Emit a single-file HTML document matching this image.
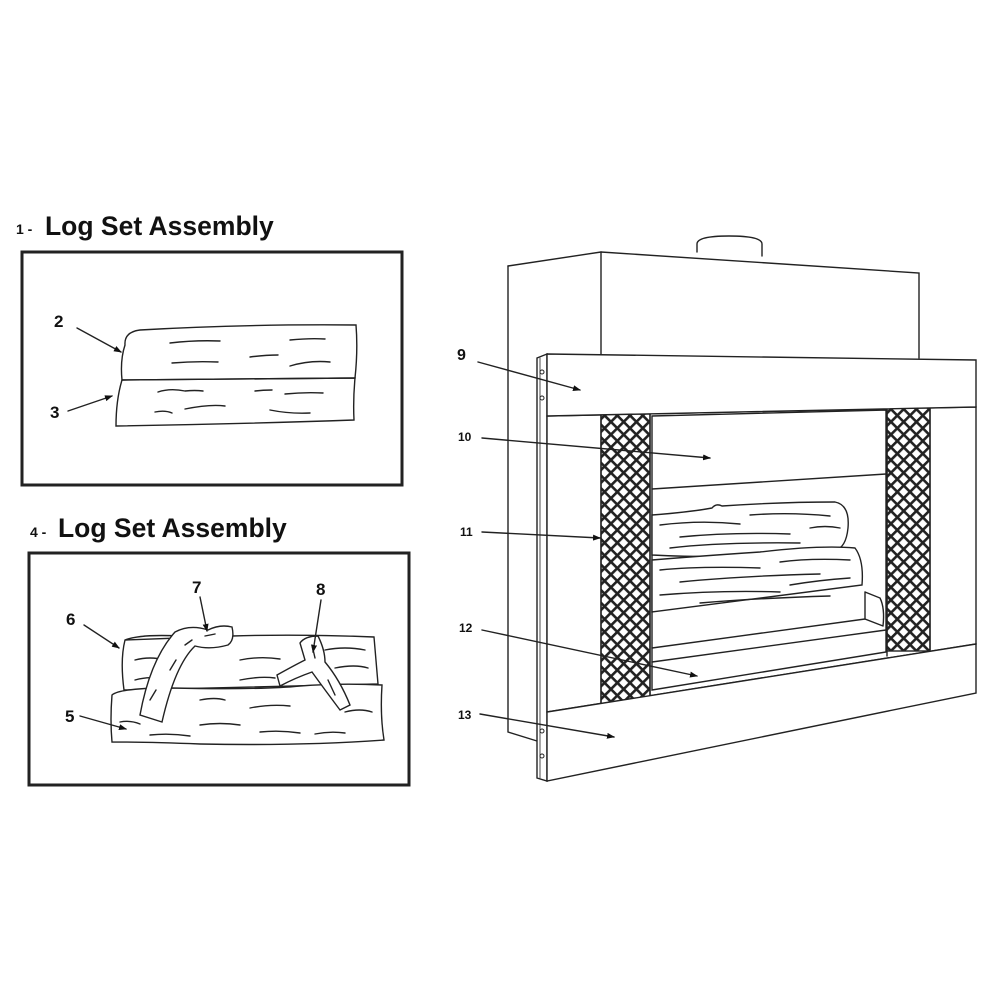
<!DOCTYPE html>
<html><head><meta charset="utf-8"><style>
html,body{margin:0;padding:0;background:#fff;width:1000px;height:1000px;overflow:hidden}
svg{display:block}
text{font-family:"Liberation Sans",Arial,sans-serif;fill:#111;font-weight:bold}
</style></head><body>
<svg width="1000" height="1000" viewBox="0 0 1000 1000" xmlns="http://www.w3.org/2000/svg">
<defs>
<marker id="ah" markerWidth="8" markerHeight="6" refX="7" refY="3" orient="auto" markerUnits="userSpaceOnUse">
<path d="M0,0 L8,3 L0,6 Z" fill="#111"/></marker>
<pattern id="lat" width="9" height="9" patternUnits="userSpaceOnUse" patternTransform="rotate(45)">
<rect width="9" height="9" fill="#fff"/>
<rect width="9" height="2.6" fill="#222"/><rect width="2.6" height="9" fill="#222"/>
</pattern>
</defs>
<g fill="none" stroke="#222" stroke-width="1.4" stroke-linecap="round">

<!-- Panel 1 -->
<text x="16" y="234" font-size="14" stroke="none">1 -</text>
<text x="45" y="235" font-size="26.5" stroke="none">Log Set Assembly</text>
<rect x="22" y="252" width="380" height="233" stroke-width="3"/>
<path d="M125,345 Q124,332 140,330 Q240,324 356,325 Q358,350 355,378 L122,380 Q120,360 125,345 Z"/>
<path d="M122,380 L355,378 Q353,400 354,420 Q240,424 116,426 Q116,400 122,380 Z"/>
<path d="M170,343 Q195,340 220,341 M290,340 Q310,338 325,339 M172,363 Q195,361 218,362 M250,357 Q265,355 278,355 M290,366 Q310,360 330,362 M158,392 Q170,388 185,391 Q195,390 203,391 M255,391 Q263,390 272,390 M285,394 Q305,392 323,393 M155,412 Q165,410 172,413 M185,409 Q210,404 225,406 M270,410 Q290,414 310,413"/>
<line x1="77" y1="328" x2="121" y2="352" marker-end="url(#ah)"/>
<line x1="68" y1="411" x2="112" y2="396" marker-end="url(#ah)"/>
<text x="54" y="327" font-size="17" stroke="none">2</text>
<text x="50" y="418" font-size="17" stroke="none">3</text>

<!-- Panel 2 -->
<text x="30" y="537" font-size="14" stroke="none">4 -</text>
<text x="58" y="537" font-size="26.5" stroke="none">Log Set Assembly</text>
<rect x="29" y="553" width="380" height="232" stroke-width="3"/>
<path d="M125,640 Q140,634 180,636 M232,636 Q300,634 374,637 Q376,660 378,684 L124,690 Q120,660 125,640 Z"/>
<path d="M112,695 Q120,688 170,688 Q260,690 300,686 Q340,683 382,685 Q380,715 384,740 Q300,746 200,744 Q150,742 112,742 Q110,720 112,695 Z" fill="#fff"/>
<path d="M135,660 Q150,656 165,660 M135,680 Q150,676 160,679 M240,660 Q260,656 280,659 M240,680 Q260,676 275,678 M325,650 Q345,646 365,650 M335,668 Q355,664 368,668 M200,700 Q215,697 225,700 M250,708 Q270,704 290,706 M200,725 Q220,722 240,725 M260,732 Q280,730 300,733 M345,712 Q360,708 372,712 M120,722 Q130,720 140,724 M150,735 Q170,733 190,736 M315,734 Q330,731 345,733"/>
<path d="M140,715 Q150,660 175,632 Q190,624 208,630 Q220,624 232,627 Q235,640 228,645 Q210,650 195,646 Q175,665 162,722 Z" fill="#fff"/>
<path d="M150,700 L156,690 M170,670 L176,660 M185,645 L192,640 M205,636 L215,634"/>
<path d="M300,643 Q305,636 318,636 Q325,650 325,662 Q340,680 350,705 L340,710 Q325,690 312,672 Q295,678 280,686 L277,675 Q295,665 305,660 Z" fill="#fff"/>
<path d="M312,645 L315,658 M328,680 L335,695"/>
<line x1="84" y1="625" x2="119" y2="648" marker-end="url(#ah)"/>
<line x1="80" y1="716" x2="126" y2="729" marker-end="url(#ah)"/>
<line x1="200" y1="597" x2="207" y2="631" marker-end="url(#ah)"/>
<line x1="321" y1="600" x2="313" y2="652" marker-end="url(#ah)"/>
<text x="66" y="625" font-size="17" stroke="none">6</text>
<text x="65" y="722" font-size="17" stroke="none">5</text>
<text x="192" y="593" font-size="17" stroke="none">7</text>
<text x="316" y="595" font-size="17" stroke="none">8</text>

<!-- Fireplace back box -->
<path d="M697,252 L697,244 Q697,236 729,236 Q762,236 762,244 L762,256"/>
<path d="M508,266 L601,252 L919,273 L919,358"/>
<line x1="601" y1="252" x2="601" y2="354"/>
<path d="M508,266 L508,732 L537,741"/>
<path d="M537,358 L547,354 L547,781 L537,778 Z" fill="#fff"/>
<line x1="540" y1="358" x2="540" y2="778" stroke-width="0.8"/>
<circle cx="542" cy="372" r="2" stroke-width="1"/><circle cx="542" cy="398" r="2" stroke-width="1"/>
<circle cx="542" cy="731" r="2" stroke-width="1"/><circle cx="542" cy="756" r="2" stroke-width="1"/>
<path d="M547,416 L976,407 L976,644 L547,712 Z" fill="#fff"/>
<path d="M652,416 L886,410 L886,652 L652,690 Z" fill="#fff"/>
<line x1="652" y1="489" x2="886" y2="474"/>
<line x1="652" y1="648" x2="865" y2="619"/>
<line x1="652" y1="662" x2="886" y2="630"/>
<path d="M865,592 L865,619 L883,626 M865,592 L880,598 Q885,608 883,626"/>
<path d="M652,515 Q690,512 712,508 Q716,503 722,506 Q780,502 835,502 Q850,505 848,528 Q846,548 835,550 Q750,560 652,555 Z" fill="#fff"/>
<path d="M652,560 Q700,556 760,552 Q820,545 855,548 Q864,560 862,585 L652,612 Z" fill="#fff"/>
<path d="M660,525 Q700,520 740,524 M680,537 Q730,532 790,534 M750,515 Q790,512 830,516 M670,548 Q720,542 800,543 M810,528 Q825,525 840,528 M660,570 Q700,566 760,568 M680,582 Q740,576 820,574 M660,595 Q720,590 780,592 M790,585 Q820,580 850,578 M700,603 Q760,598 830,596 M780,562 Q810,558 850,560"/>
<rect x="601" y="414" width="49" height="290" fill="url(#lat)"/>
<rect x="887" y="408" width="43" height="243" fill="url(#lat)"/>
<line x1="601" y1="414" x2="601" y2="704"/><line x1="650" y1="414" x2="650" y2="702"/>
<line x1="887" y1="410" x2="887" y2="656"/><line x1="930" y1="408" x2="930" y2="650"/>
<path d="M547,354 L976,360 L976,407 L547,416 Z" fill="#fff"/>
<path d="M547,712 L976,644 L976,693 L547,781 Z" fill="#fff"/>

<line x1="478" y1="362" x2="580" y2="390" marker-end="url(#ah)"/>
<line x1="482" y1="438" x2="710" y2="458" marker-end="url(#ah)"/>
<line x1="482" y1="532" x2="600" y2="538" marker-end="url(#ah)"/>
<line x1="482" y1="630" x2="697" y2="676" marker-end="url(#ah)"/>
<line x1="480" y1="714" x2="614" y2="737" marker-end="url(#ah)"/>
</g>
<text x="457" y="360" font-size="16">9</text>
<text x="458" y="441" font-size="12">10</text>
<text x="460" y="536" font-size="12">11</text>
<text x="459" y="632" font-size="12">12</text>
<text x="458" y="719" font-size="12">13</text>
</svg>
</body></html>
